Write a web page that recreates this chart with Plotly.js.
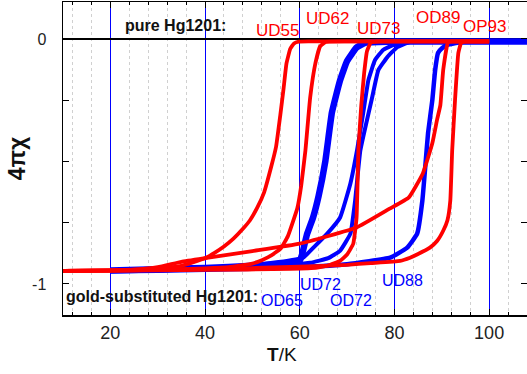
<!DOCTYPE html>
<html>
<head>
<meta charset="utf-8">
<script src="https://cdn.plot.ly/plotly-3.0.1.min.js"></script>
<style>html,body{margin:0;padding:0;background:#fff;}#chart{width:527px;height:374px;}</style>
</head>
<body>
<div id="chart"></div>
<script>
// ---- pure Hg1201 (red) ----
const UD55_T = [10,20,30,35,40,42,44,46,48,49.5,51,52.5,54,55,55.9,56.6,57.2,58,58.8,59.8,62,70,80,90,100];
const UD55_X = [-0.947,-0.945,-0.937,-0.926,-0.895,-0.873,-0.847,-0.815,-0.775,-0.74,-0.69,-0.625,-0.52,-0.44,-0.31,-0.2,-0.1,-0.04,-0.018,-0.011,-0.01,-0.01,-0.01,-0.01,-0.01];
const UD62_T = [10,20,30,40,45,50,52,54,56,57.5,58.5,59.5,60.3,61.2,62.2,63.3,64.3,65.5,70,80,90,100];
const UD62_X = [-0.947,-0.946,-0.943,-0.937,-0.932,-0.917,-0.903,-0.884,-0.855,-0.805,-0.75,-0.69,-0.6,-0.455,-0.24,-0.1,-0.03,-0.012,-0.01,-0.01,-0.01,-0.01];
const UD73_T = [10,20,40,58,63.7,66,68.5,70,71.3,72.0,72.4,73.0,73.6,74.2,75,77,80,90,100];
const UD73_X = [-0.947,-0.946,-0.943,-0.939,-0.934,-0.925,-0.906,-0.88,-0.836,-0.73,-0.45,-0.27,-0.14,-0.05,-0.015,-0.01,-0.01,-0.01,-0.01];
const OD89_T = [10,20,25,30,35,40,50,60,72,79,83,86,88,89,89.7,90.3,91.3,92.2,95,100];
const OD89_X = [-0.947,-0.945,-0.942,-0.932,-0.91,-0.895,-0.866,-0.836,-0.77,-0.693,-0.648,-0.549,-0.426,-0.33,-0.27,-0.127,-0.015,-0.01,-0.01,-0.01];
const OP93_T = [10,20,40,60,70,75,81.2,83.3,85,87.5,89,90.3,91.2,91.8,92.2,92.8,93.5,94.1,95,100];
const OP93_X = [-0.947,-0.946,-0.94,-0.93,-0.922,-0.915,-0.906,-0.893,-0.878,-0.852,-0.825,-0.783,-0.74,-0.66,-0.455,-0.25,-0.057,-0.016,-0.01,-0.01];

// ---- gold-substituted Hg1201 (blue) ----
const OD65_T = [20,30,40,50,55,58,60,60.5,61.5,62.8,64,65.4,66.8,68.5,70,72,74,80,90,100,110];
const OD65_X = [-0.945,-0.94,-0.935,-0.926,-0.92,-0.914,-0.905,-0.88,-0.8,-0.73,-0.64,-0.5,-0.3,-0.17,-0.09,-0.035,-0.015,-0.01,-0.01,-0.01,-0.01];
const UD72_T = [20,30,40,50,60.7,63,65.8,68.5,70.7,72.1,73.4,74.5,75.9,77.6,79.7,82.3,90,110];
const UD72_X = [-0.945,-0.942,-0.935,-0.925,-0.893,-0.85,-0.795,-0.73,-0.59,-0.455,-0.303,-0.168,-0.086,-0.045,-0.025,-0.012,-0.01,-0.01];
const OD72_T = [20,30,40,50,62.2,66,68.5,70.7,71.7,72.8,75.3,76.6,78.5,80.6,83.3,90,110];
const OD72_X = [-0.947,-0.944,-0.938,-0.93,-0.914,-0.895,-0.865,-0.795,-0.66,-0.455,-0.238,-0.127,-0.074,-0.033,-0.012,-0.01,-0.01];
const UD88_T = [20,30,40,50,60,70,79.1,82.7,84.8,85.9,86.5,87.1,88,88.6,89.2,90.1,91.1,95,110];
const UD88_X = [-0.948,-0.946,-0.942,-0.938,-0.932,-0.92,-0.893,-0.852,-0.795,-0.66,-0.525,-0.385,-0.25,-0.127,-0.057,-0.037,-0.025,-0.01,-0.01];

const xTicks = [20,40,60,80,100];
const yTicks = [0,-0.25,-0.5,-0.75,-1];
const yTickText = ['0','','','','-1'];

const redLabels = {text:['UD55','UD62','UD73','OD89','OP93'], x:[55.25,65.8,76.6,89.2,99.0], y:[0.033,0.082,0.041,0.086,0.051]};
const blueLabels = {text:['OD65','UD72','OD72','UD88'], x:[56.3,64.4,70.9,81.6], y:[-1.066,-1.004,-1.066,-0.988]};

const RED = '#ff0000', BLUE = '#0000ff';
function tr(x, y, color, w){ return {x:x, y:y, type:'scatter', mode:'lines', line:{color:color, width:w, shape:'spline', smoothing:0.35}, hoverinfo:'skip', showlegend:false}; }

const data = [
  tr(UD88_T, UD88_X, BLUE, 4.5),
  tr(OD72_T, OD72_X, BLUE, 4),
  tr(UD72_T, UD72_X, BLUE, 4),
  tr(OD65_T, OD65_X, BLUE, 6.5),
  tr(OP93_T, OP93_X, RED, 3.8),
  tr(OD89_T, OD89_X, RED, 3.8),
  tr(UD73_T, UD73_X, RED, 3.8),
  tr(UD62_T, UD62_X, RED, 3.8),
  tr(UD55_T, UD55_X, RED, 3.8)
];

const ann = [];
redLabels.text.forEach((t,i)=>ann.push({x:redLabels.x[i], y:redLabels.y[i], text:t, showarrow:false, font:{family:'Liberation Sans, Arial', size:17, color:RED}}));
blueLabels.text.forEach((t,i)=>ann.push({x:blueLabels.x[i], y:blueLabels.y[i], text:t, showarrow:false, font:{family:'Liberation Sans, Arial', size:16, color:BLUE}}));
ann.push({x:33.8, y:0.057, text:'<b>pure Hg1201:</b>', showarrow:false, font:{family:'Liberation Sans, Arial', size:16, color:'#111'}});
ann.push({x:10.15, y:-1.053, xanchor:'left', text:'<b>gold-substituted Hg1201:</b>', showarrow:false, font:{family:'Liberation Sans, Arial', size:16, color:'#111'}});

const layout = {
  width:527, height:374,
  margin:{l:63, r:0, t:2, b:59},
  paper_bgcolor:'#fff', plot_bgcolor:'#fff',
  font:{family:'Liberation Sans, Arial', color:'#222'},
  xaxis:{
    range:[10,108], tickvals:xTicks, ticks:'inside', ticklen:6, tickcolor:'#000',
    showline:true, linecolor:'#000', linewidth:1.5, mirror:'ticks',
    showgrid:true, gridcolor:BLUE, gridwidth:1, zeroline:false,
    tickfont:{size:18, color:'#222'}, ticklabelstandoff:1,
    minor:{dtick:4, tick0:0, ticks:'inside', ticklen:3, tickcolor:'#000', showgrid:true, gridcolor:'#d0d0d0', griddash:'dot', gridwidth:1},
    title:{text:'<b>T</b>/K&nbsp;&nbsp;&nbsp;&nbsp;&nbsp;', font:{size:19, color:'#111'}, standoff:5}
  },
  yaxis:{
    range:[-1.127,0.151], tickvals:yTicks, ticktext:yTickText, ticks:'inside', ticklen:6, tickcolor:'#000',
    showline:true, linecolor:'#000', linewidth:1.5, mirror:'ticks',
    showgrid:false, zeroline:true, zerolinecolor:'#000', zerolinewidth:1.5,
    tickfont:{size:16, color:'#222'}, ticklabelstandoff:12,
    title:{text:'<b>4πχ</b>', font:{size:23, color:'#111'}, standoff:0}
  },
  annotations:ann
};
Plotly.newPlot('chart', data, layout, {displayModeBar:false, staticPlot:true});
</script>
</body>
</html>
